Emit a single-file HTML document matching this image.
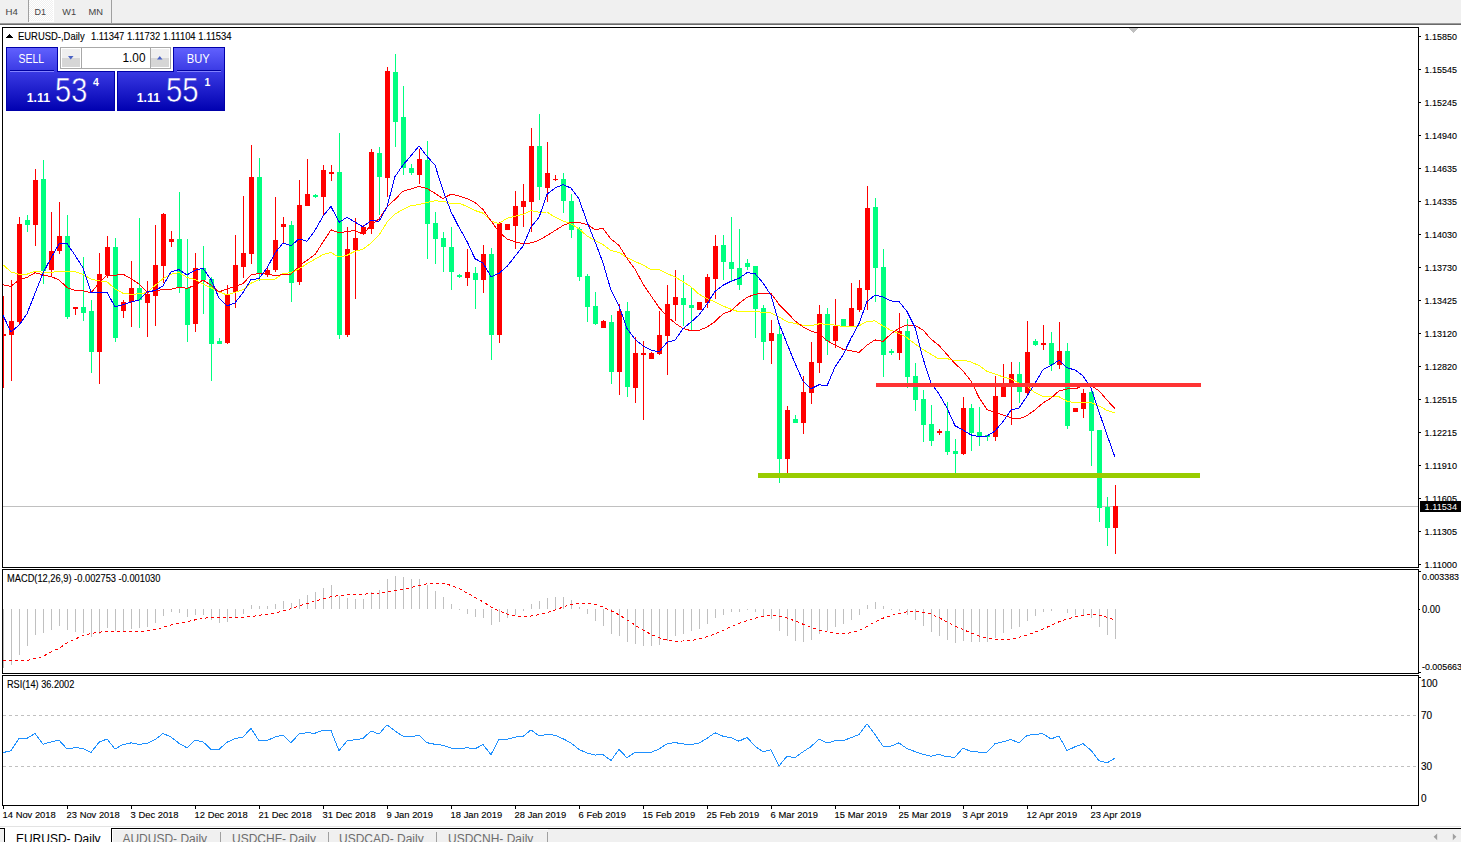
<!DOCTYPE html>
<html><head><meta charset="utf-8"><style>html,body{margin:0;padding:0;background:#fff;width:1461px;height:842px;overflow:hidden}svg{display:block}text{font-family:"Liberation Sans",sans-serif}</style></head>
<body><svg width="1461" height="842" viewBox="0 0 1461 842" shape-rendering="crispEdges" font-family="Liberation Sans, sans-serif"><rect x="0" y="0" width="1461" height="23" fill="#f0f0f0"/>
<defs><pattern id="dots" width="2" height="2" patternUnits="userSpaceOnUse"><rect width="2" height="2" fill="#f0f0f0"/><rect width="1" height="1" fill="#fff"/><rect x="1" y="1" width="1" height="1" fill="#fff"/></pattern></defs>
<rect x="29" y="0" width="24" height="21" fill="url(#dots)"/>
<rect x="53" y="0" width="1" height="22" fill="#fff"/>
<rect x="29" y="21" width="25" height="1" fill="#fff"/>
<rect x="28" y="0" width="1" height="22" fill="#a0a0a0"/>
<rect x="111" y="0" width="1" height="23" fill="#a0a0a0"/>
<text x="5.5" y="15" font-size="9.8" fill="#444" textLength="12.3" lengthAdjust="spacingAndGlyphs">H4</text>
<text x="34.5" y="15" font-size="9.8" fill="#444" textLength="11.5" lengthAdjust="spacingAndGlyphs">D1</text>
<text x="62.3" y="15" font-size="9.8" fill="#444" textLength="13.7" lengthAdjust="spacingAndGlyphs">W1</text>
<text x="88.5" y="15" font-size="9.8" fill="#444" textLength="14.5" lengthAdjust="spacingAndGlyphs">MN</text>
<rect x="0" y="23" width="1461" height="1" fill="#9a9a9a"/>
<rect x="0" y="24" width="1461" height="1" fill="#6a6a6a"/>
<rect x="2" y="27" width="1417" height="1" fill="#000"/>
<rect x="2" y="567" width="1417" height="1" fill="#000"/>
<rect x="2" y="27" width="1" height="541" fill="#000"/>
<rect x="1418" y="27" width="1" height="541" fill="#000"/>
<rect x="2" y="569" width="1417" height="1" fill="#000"/>
<rect x="2" y="673" width="1417" height="1" fill="#000"/>
<rect x="2" y="569" width="1" height="105" fill="#000"/>
<rect x="1418" y="569" width="1" height="105" fill="#000"/>
<rect x="2" y="675" width="1417" height="1" fill="#000"/>
<rect x="2" y="805" width="1417" height="1" fill="#000"/>
<rect x="2" y="675" width="1" height="131" fill="#000"/>
<rect x="1418" y="675" width="1" height="131" fill="#000"/>
<polygon points="1129,28 1138,28 1133.5,33" fill="#c0c0c0"/>
<rect x="1419" y="36" width="2" height="1" fill="#000"/>
<text x="1424.6" y="40" font-size="9.6" fill="#000" textLength="32.4" lengthAdjust="spacingAndGlyphs" stroke="#000" stroke-width="0.12">1.15850</text>
<rect x="1419" y="69" width="2" height="1" fill="#000"/>
<text x="1424.6" y="73" font-size="9.6" fill="#000" textLength="32.4" lengthAdjust="spacingAndGlyphs" stroke="#000" stroke-width="0.12">1.15545</text>
<rect x="1419" y="102" width="2" height="1" fill="#000"/>
<text x="1424.6" y="106" font-size="9.6" fill="#000" textLength="32.4" lengthAdjust="spacingAndGlyphs" stroke="#000" stroke-width="0.12">1.15245</text>
<rect x="1419" y="135" width="2" height="1" fill="#000"/>
<text x="1424.6" y="139" font-size="9.6" fill="#000" textLength="32.4" lengthAdjust="spacingAndGlyphs" stroke="#000" stroke-width="0.12">1.14940</text>
<rect x="1419" y="168" width="2" height="1" fill="#000"/>
<text x="1424.6" y="172" font-size="9.6" fill="#000" textLength="32.4" lengthAdjust="spacingAndGlyphs" stroke="#000" stroke-width="0.12">1.14635</text>
<rect x="1419" y="201" width="2" height="1" fill="#000"/>
<text x="1424.6" y="205" font-size="9.6" fill="#000" textLength="32.4" lengthAdjust="spacingAndGlyphs" stroke="#000" stroke-width="0.12">1.14335</text>
<rect x="1419" y="234" width="2" height="1" fill="#000"/>
<text x="1424.6" y="238" font-size="9.6" fill="#000" textLength="32.4" lengthAdjust="spacingAndGlyphs" stroke="#000" stroke-width="0.12">1.14030</text>
<rect x="1419" y="267" width="2" height="1" fill="#000"/>
<text x="1424.6" y="271" font-size="9.6" fill="#000" textLength="32.4" lengthAdjust="spacingAndGlyphs" stroke="#000" stroke-width="0.12">1.13730</text>
<rect x="1419" y="300" width="2" height="1" fill="#000"/>
<text x="1424.6" y="304" font-size="9.6" fill="#000" textLength="32.4" lengthAdjust="spacingAndGlyphs" stroke="#000" stroke-width="0.12">1.13425</text>
<rect x="1419" y="333" width="2" height="1" fill="#000"/>
<text x="1424.6" y="337" font-size="9.6" fill="#000" textLength="32.4" lengthAdjust="spacingAndGlyphs" stroke="#000" stroke-width="0.12">1.13120</text>
<rect x="1419" y="366" width="2" height="1" fill="#000"/>
<text x="1424.6" y="370" font-size="9.6" fill="#000" textLength="32.4" lengthAdjust="spacingAndGlyphs" stroke="#000" stroke-width="0.12">1.12820</text>
<rect x="1419" y="399" width="2" height="1" fill="#000"/>
<text x="1424.6" y="403" font-size="9.6" fill="#000" textLength="32.4" lengthAdjust="spacingAndGlyphs" stroke="#000" stroke-width="0.12">1.12515</text>
<rect x="1419" y="432" width="2" height="1" fill="#000"/>
<text x="1424.6" y="436" font-size="9.6" fill="#000" textLength="32.4" lengthAdjust="spacingAndGlyphs" stroke="#000" stroke-width="0.12">1.12215</text>
<rect x="1419" y="465" width="2" height="1" fill="#000"/>
<text x="1424.6" y="469" font-size="9.6" fill="#000" textLength="32.4" lengthAdjust="spacingAndGlyphs" stroke="#000" stroke-width="0.12">1.11910</text>
<rect x="1419" y="498" width="2" height="1" fill="#000"/>
<text x="1424.6" y="502" font-size="9.6" fill="#000" textLength="32.4" lengthAdjust="spacingAndGlyphs" stroke="#000" stroke-width="0.12">1.11605</text>
<rect x="1419" y="531" width="2" height="1" fill="#000"/>
<text x="1424.6" y="535" font-size="9.6" fill="#000" textLength="32.4" lengthAdjust="spacingAndGlyphs" stroke="#000" stroke-width="0.12">1.11305</text>
<rect x="1419" y="564" width="2" height="1" fill="#000"/>
<text x="1424.6" y="568" font-size="9.6" fill="#000" textLength="32.4" lengthAdjust="spacingAndGlyphs" stroke="#000" stroke-width="0.12">1.11000</text>
<clipPath id="cm"><rect x="3" y="28" width="1415" height="539"/></clipPath>
<clipPath id="cmacd"><rect x="3" y="571" width="1415" height="102"/></clipPath>
<clipPath id="crsi"><rect x="3" y="677" width="1415" height="128"/></clipPath>
<g clip-path="url(#cm)">
<rect x="3" y="506" width="1415" height="1" fill="#c0c0c0"/>
<rect x="3" y="296" width="1" height="92" fill="#ff0000"/>
<rect x="1" y="334" width="5" height="2" fill="#ff0000"/>
<rect x="11" y="280" width="1" height="101" fill="#ff0000"/>
<rect x="9" y="321" width="5" height="14" fill="#ff0000"/>
<rect x="19" y="217" width="1" height="108" fill="#ff0000"/>
<rect x="17" y="224" width="5" height="98" fill="#ff0000"/>
<rect x="27" y="215" width="1" height="17" fill="#00ff7f"/>
<rect x="25" y="220" width="5" height="5" fill="#00ff7f"/>
<rect x="35" y="169" width="1" height="77" fill="#ff0000"/>
<rect x="33" y="180" width="5" height="45" fill="#ff0000"/>
<rect x="43" y="160" width="1" height="124" fill="#00ff7f"/>
<rect x="41" y="179" width="5" height="92" fill="#00ff7f"/>
<rect x="51" y="212" width="1" height="64" fill="#ff0000"/>
<rect x="49" y="251" width="5" height="19" fill="#ff0000"/>
<rect x="59" y="202" width="1" height="52" fill="#ff0000"/>
<rect x="57" y="236" width="5" height="15" fill="#ff0000"/>
<rect x="67" y="215" width="1" height="104" fill="#00ff7f"/>
<rect x="65" y="236" width="5" height="81" fill="#00ff7f"/>
<rect x="75" y="307" width="1" height="8" fill="#ff0000"/>
<rect x="73" y="307" width="5" height="2" fill="#ff0000"/>
<rect x="83" y="257" width="1" height="64" fill="#00ff7f"/>
<rect x="81" y="307" width="5" height="6" fill="#00ff7f"/>
<rect x="91" y="300" width="1" height="73" fill="#00ff7f"/>
<rect x="89" y="311" width="5" height="41" fill="#00ff7f"/>
<rect x="99" y="253" width="1" height="131" fill="#ff0000"/>
<rect x="97" y="274" width="5" height="78" fill="#ff0000"/>
<rect x="107" y="236" width="1" height="42" fill="#ff0000"/>
<rect x="105" y="247" width="5" height="28" fill="#ff0000"/>
<rect x="115" y="238" width="1" height="104" fill="#00ff7f"/>
<rect x="113" y="247" width="5" height="91" fill="#00ff7f"/>
<rect x="123" y="300" width="1" height="18" fill="#ff0000"/>
<rect x="121" y="302" width="5" height="9" fill="#ff0000"/>
<rect x="131" y="261" width="1" height="66" fill="#ff0000"/>
<rect x="129" y="288" width="5" height="14" fill="#ff0000"/>
<rect x="139" y="218" width="1" height="110" fill="#00ff7f"/>
<rect x="137" y="288" width="5" height="12" fill="#00ff7f"/>
<rect x="147" y="281" width="1" height="56" fill="#ff0000"/>
<rect x="145" y="294" width="5" height="9" fill="#ff0000"/>
<rect x="155" y="225" width="1" height="101" fill="#ff0000"/>
<rect x="153" y="265" width="5" height="31" fill="#ff0000"/>
<rect x="163" y="213" width="1" height="70" fill="#ff0000"/>
<rect x="161" y="214" width="5" height="52" fill="#ff0000"/>
<rect x="171" y="231" width="1" height="16" fill="#ff0000"/>
<rect x="169" y="239" width="5" height="3" fill="#ff0000"/>
<rect x="179" y="192" width="1" height="101" fill="#00ff7f"/>
<rect x="177" y="239" width="5" height="48" fill="#00ff7f"/>
<rect x="187" y="239" width="1" height="103" fill="#00ff7f"/>
<rect x="185" y="288" width="5" height="37" fill="#00ff7f"/>
<rect x="195" y="253" width="1" height="79" fill="#ff0000"/>
<rect x="193" y="268" width="5" height="56" fill="#ff0000"/>
<rect x="203" y="246" width="1" height="68" fill="#00ff7f"/>
<rect x="201" y="268" width="5" height="12" fill="#00ff7f"/>
<rect x="211" y="277" width="1" height="104" fill="#00ff7f"/>
<rect x="209" y="279" width="5" height="65" fill="#00ff7f"/>
<rect x="219" y="338" width="1" height="6" fill="#00ff7f"/>
<rect x="217" y="341" width="5" height="3" fill="#00ff7f"/>
<rect x="227" y="285" width="1" height="59" fill="#ff0000"/>
<rect x="225" y="294" width="5" height="49" fill="#ff0000"/>
<rect x="235" y="235" width="1" height="73" fill="#ff0000"/>
<rect x="233" y="265" width="5" height="27" fill="#ff0000"/>
<rect x="243" y="196" width="1" height="82" fill="#ff0000"/>
<rect x="241" y="253" width="5" height="14" fill="#ff0000"/>
<rect x="251" y="145" width="1" height="119" fill="#ff0000"/>
<rect x="249" y="177" width="5" height="77" fill="#ff0000"/>
<rect x="259" y="158" width="1" height="123" fill="#00ff7f"/>
<rect x="257" y="177" width="5" height="96" fill="#00ff7f"/>
<rect x="267" y="267" width="1" height="10" fill="#ff0000"/>
<rect x="265" y="270" width="5" height="5" fill="#ff0000"/>
<rect x="275" y="197" width="1" height="75" fill="#ff0000"/>
<rect x="273" y="240" width="5" height="30" fill="#ff0000"/>
<rect x="283" y="217" width="1" height="27" fill="#ff0000"/>
<rect x="281" y="224" width="5" height="3" fill="#ff0000"/>
<rect x="291" y="221" width="1" height="81" fill="#00ff7f"/>
<rect x="289" y="225" width="5" height="58" fill="#00ff7f"/>
<rect x="299" y="180" width="1" height="105" fill="#ff0000"/>
<rect x="297" y="205" width="5" height="77" fill="#ff0000"/>
<rect x="307" y="159" width="1" height="47" fill="#ff0000"/>
<rect x="305" y="194" width="5" height="12" fill="#ff0000"/>
<rect x="315" y="194" width="1" height="4" fill="#00ff7f"/>
<rect x="313" y="195" width="5" height="2" fill="#00ff7f"/>
<rect x="323" y="165" width="1" height="51" fill="#ff0000"/>
<rect x="321" y="170" width="5" height="27" fill="#ff0000"/>
<rect x="331" y="165" width="1" height="16" fill="#ff0000"/>
<rect x="329" y="172" width="5" height="2" fill="#ff0000"/>
<rect x="339" y="133" width="1" height="206" fill="#00ff7f"/>
<rect x="337" y="172" width="5" height="163" fill="#00ff7f"/>
<rect x="347" y="227" width="1" height="110" fill="#ff0000"/>
<rect x="345" y="249" width="5" height="86" fill="#ff0000"/>
<rect x="355" y="218" width="1" height="81" fill="#ff0000"/>
<rect x="353" y="238" width="5" height="12" fill="#ff0000"/>
<rect x="363" y="225" width="1" height="10" fill="#ff0000"/>
<rect x="361" y="227" width="5" height="7" fill="#ff0000"/>
<rect x="371" y="149" width="1" height="85" fill="#ff0000"/>
<rect x="369" y="152" width="5" height="77" fill="#ff0000"/>
<rect x="379" y="147" width="1" height="68" fill="#00ff7f"/>
<rect x="377" y="153" width="5" height="24" fill="#00ff7f"/>
<rect x="387" y="67" width="1" height="130" fill="#ff0000"/>
<rect x="385" y="71" width="5" height="107" fill="#ff0000"/>
<rect x="395" y="54" width="1" height="93" fill="#00ff7f"/>
<rect x="393" y="72" width="5" height="50" fill="#00ff7f"/>
<rect x="403" y="86" width="1" height="89" fill="#00ff7f"/>
<rect x="401" y="117" width="5" height="51" fill="#00ff7f"/>
<rect x="411" y="164" width="1" height="11" fill="#00ff7f"/>
<rect x="409" y="168" width="5" height="5" fill="#00ff7f"/>
<rect x="419" y="149" width="1" height="35" fill="#ff0000"/>
<rect x="417" y="159" width="5" height="16" fill="#ff0000"/>
<rect x="427" y="141" width="1" height="118" fill="#00ff7f"/>
<rect x="425" y="160" width="5" height="64" fill="#00ff7f"/>
<rect x="435" y="212" width="1" height="52" fill="#00ff7f"/>
<rect x="433" y="223" width="5" height="16" fill="#00ff7f"/>
<rect x="443" y="232" width="1" height="40" fill="#00ff7f"/>
<rect x="441" y="238" width="5" height="9" fill="#00ff7f"/>
<rect x="451" y="227" width="1" height="63" fill="#00ff7f"/>
<rect x="449" y="247" width="5" height="25" fill="#00ff7f"/>
<rect x="459" y="274" width="1" height="4" fill="#00ff7f"/>
<rect x="457" y="275" width="5" height="2" fill="#00ff7f"/>
<rect x="467" y="249" width="1" height="37" fill="#ff0000"/>
<rect x="465" y="272" width="5" height="6" fill="#ff0000"/>
<rect x="475" y="267" width="1" height="42" fill="#00ff7f"/>
<rect x="473" y="273" width="5" height="7" fill="#00ff7f"/>
<rect x="483" y="245" width="1" height="48" fill="#ff0000"/>
<rect x="481" y="254" width="5" height="26" fill="#ff0000"/>
<rect x="491" y="248" width="1" height="112" fill="#00ff7f"/>
<rect x="489" y="254" width="5" height="81" fill="#00ff7f"/>
<rect x="499" y="222" width="1" height="121" fill="#ff0000"/>
<rect x="497" y="223" width="5" height="112" fill="#ff0000"/>
<rect x="507" y="224" width="1" height="6" fill="#ff0000"/>
<rect x="505" y="224" width="5" height="6" fill="#ff0000"/>
<rect x="515" y="191" width="1" height="58" fill="#ff0000"/>
<rect x="513" y="206" width="5" height="20" fill="#ff0000"/>
<rect x="523" y="184" width="1" height="43" fill="#ff0000"/>
<rect x="521" y="201" width="5" height="6" fill="#ff0000"/>
<rect x="531" y="128" width="1" height="104" fill="#ff0000"/>
<rect x="529" y="146" width="5" height="56" fill="#ff0000"/>
<rect x="539" y="114" width="1" height="86" fill="#00ff7f"/>
<rect x="537" y="146" width="5" height="41" fill="#00ff7f"/>
<rect x="547" y="142" width="1" height="60" fill="#ff0000"/>
<rect x="545" y="173" width="5" height="15" fill="#ff0000"/>
<rect x="555" y="175" width="1" height="6" fill="#ff0000"/>
<rect x="553" y="179" width="5" height="1" fill="#ff0000"/>
<rect x="563" y="173" width="1" height="40" fill="#00ff7f"/>
<rect x="561" y="179" width="5" height="22" fill="#00ff7f"/>
<rect x="571" y="194" width="1" height="44" fill="#00ff7f"/>
<rect x="569" y="201" width="5" height="29" fill="#00ff7f"/>
<rect x="579" y="227" width="1" height="54" fill="#00ff7f"/>
<rect x="577" y="229" width="5" height="48" fill="#00ff7f"/>
<rect x="587" y="274" width="1" height="48" fill="#00ff7f"/>
<rect x="585" y="276" width="5" height="31" fill="#00ff7f"/>
<rect x="595" y="292" width="1" height="33" fill="#00ff7f"/>
<rect x="593" y="306" width="5" height="18" fill="#00ff7f"/>
<rect x="603" y="320" width="1" height="8" fill="#ff0000"/>
<rect x="601" y="321" width="5" height="7" fill="#ff0000"/>
<rect x="611" y="315" width="1" height="69" fill="#00ff7f"/>
<rect x="609" y="322" width="5" height="50" fill="#00ff7f"/>
<rect x="619" y="304" width="1" height="91" fill="#ff0000"/>
<rect x="617" y="311" width="5" height="61" fill="#ff0000"/>
<rect x="627" y="302" width="1" height="95" fill="#00ff7f"/>
<rect x="625" y="311" width="5" height="76" fill="#00ff7f"/>
<rect x="635" y="337" width="1" height="66" fill="#ff0000"/>
<rect x="633" y="353" width="5" height="35" fill="#ff0000"/>
<rect x="643" y="341" width="1" height="79" fill="#ff0000"/>
<rect x="641" y="353" width="5" height="2" fill="#ff0000"/>
<rect x="651" y="352" width="1" height="7" fill="#ff0000"/>
<rect x="649" y="353" width="5" height="6" fill="#ff0000"/>
<rect x="659" y="311" width="1" height="44" fill="#ff0000"/>
<rect x="657" y="335" width="5" height="19" fill="#ff0000"/>
<rect x="667" y="285" width="1" height="90" fill="#ff0000"/>
<rect x="665" y="304" width="5" height="32" fill="#ff0000"/>
<rect x="675" y="270" width="1" height="51" fill="#ff0000"/>
<rect x="673" y="297" width="5" height="8" fill="#ff0000"/>
<rect x="683" y="275" width="1" height="51" fill="#00ff7f"/>
<rect x="681" y="298" width="5" height="7" fill="#00ff7f"/>
<rect x="691" y="287" width="1" height="43" fill="#00ff7f"/>
<rect x="689" y="305" width="5" height="3" fill="#00ff7f"/>
<rect x="699" y="302" width="1" height="8" fill="#ff0000"/>
<rect x="697" y="302" width="5" height="8" fill="#ff0000"/>
<rect x="707" y="274" width="1" height="34" fill="#ff0000"/>
<rect x="705" y="277" width="5" height="26" fill="#ff0000"/>
<rect x="715" y="235" width="1" height="64" fill="#ff0000"/>
<rect x="713" y="246" width="5" height="33" fill="#ff0000"/>
<rect x="723" y="235" width="1" height="45" fill="#00ff7f"/>
<rect x="721" y="245" width="5" height="17" fill="#00ff7f"/>
<rect x="731" y="217" width="1" height="65" fill="#00ff7f"/>
<rect x="729" y="262" width="5" height="7" fill="#00ff7f"/>
<rect x="739" y="229" width="1" height="61" fill="#00ff7f"/>
<rect x="737" y="268" width="5" height="17" fill="#00ff7f"/>
<rect x="747" y="259" width="1" height="11" fill="#00ff7f"/>
<rect x="745" y="263" width="5" height="4" fill="#00ff7f"/>
<rect x="755" y="266" width="1" height="72" fill="#00ff7f"/>
<rect x="753" y="266" width="5" height="43" fill="#00ff7f"/>
<rect x="763" y="305" width="1" height="55" fill="#00ff7f"/>
<rect x="761" y="308" width="5" height="34" fill="#00ff7f"/>
<rect x="771" y="320" width="1" height="44" fill="#ff0000"/>
<rect x="769" y="333" width="5" height="8" fill="#ff0000"/>
<rect x="779" y="325" width="1" height="158" fill="#00ff7f"/>
<rect x="777" y="334" width="5" height="125" fill="#00ff7f"/>
<rect x="787" y="406" width="1" height="67" fill="#ff0000"/>
<rect x="785" y="410" width="5" height="49" fill="#ff0000"/>
<rect x="795" y="415" width="1" height="8" fill="#00ff7f"/>
<rect x="793" y="419" width="5" height="4" fill="#00ff7f"/>
<rect x="803" y="376" width="1" height="58" fill="#ff0000"/>
<rect x="801" y="392" width="5" height="31" fill="#ff0000"/>
<rect x="811" y="342" width="1" height="62" fill="#ff0000"/>
<rect x="809" y="362" width="5" height="31" fill="#ff0000"/>
<rect x="819" y="305" width="1" height="68" fill="#ff0000"/>
<rect x="817" y="314" width="5" height="49" fill="#ff0000"/>
<rect x="827" y="308" width="1" height="47" fill="#00ff7f"/>
<rect x="825" y="314" width="5" height="27" fill="#00ff7f"/>
<rect x="835" y="299" width="1" height="49" fill="#ff0000"/>
<rect x="833" y="326" width="5" height="15" fill="#ff0000"/>
<rect x="843" y="319" width="1" height="8" fill="#00ff7f"/>
<rect x="841" y="319" width="5" height="7" fill="#00ff7f"/>
<rect x="851" y="283" width="1" height="43" fill="#ff0000"/>
<rect x="849" y="308" width="5" height="18" fill="#ff0000"/>
<rect x="859" y="280" width="1" height="32" fill="#ff0000"/>
<rect x="857" y="288" width="5" height="22" fill="#ff0000"/>
<rect x="867" y="186" width="1" height="124" fill="#ff0000"/>
<rect x="865" y="208" width="5" height="82" fill="#ff0000"/>
<rect x="875" y="198" width="1" height="104" fill="#00ff7f"/>
<rect x="873" y="207" width="5" height="61" fill="#00ff7f"/>
<rect x="883" y="249" width="1" height="128" fill="#00ff7f"/>
<rect x="881" y="267" width="5" height="88" fill="#00ff7f"/>
<rect x="891" y="349" width="1" height="6" fill="#00ff7f"/>
<rect x="889" y="351" width="5" height="2" fill="#00ff7f"/>
<rect x="899" y="313" width="1" height="47" fill="#ff0000"/>
<rect x="897" y="331" width="5" height="22" fill="#ff0000"/>
<rect x="907" y="319" width="1" height="69" fill="#00ff7f"/>
<rect x="905" y="331" width="5" height="46" fill="#00ff7f"/>
<rect x="915" y="363" width="1" height="48" fill="#00ff7f"/>
<rect x="913" y="376" width="5" height="24" fill="#00ff7f"/>
<rect x="923" y="390" width="1" height="52" fill="#00ff7f"/>
<rect x="921" y="399" width="5" height="26" fill="#00ff7f"/>
<rect x="931" y="405" width="1" height="41" fill="#00ff7f"/>
<rect x="929" y="424" width="5" height="17" fill="#00ff7f"/>
<rect x="939" y="429" width="1" height="6" fill="#ff0000"/>
<rect x="937" y="431" width="5" height="2" fill="#ff0000"/>
<rect x="947" y="402" width="1" height="53" fill="#00ff7f"/>
<rect x="945" y="431" width="5" height="21" fill="#00ff7f"/>
<rect x="955" y="439" width="1" height="34" fill="#00ff7f"/>
<rect x="953" y="451" width="5" height="3" fill="#00ff7f"/>
<rect x="963" y="397" width="1" height="58" fill="#ff0000"/>
<rect x="961" y="408" width="5" height="46" fill="#ff0000"/>
<rect x="971" y="404" width="1" height="47" fill="#00ff7f"/>
<rect x="969" y="408" width="5" height="25" fill="#00ff7f"/>
<rect x="979" y="407" width="1" height="39" fill="#00ff7f"/>
<rect x="977" y="432" width="5" height="5" fill="#00ff7f"/>
<rect x="987" y="435" width="1" height="6" fill="#00ff7f"/>
<rect x="985" y="435" width="5" height="2" fill="#00ff7f"/>
<rect x="995" y="376" width="1" height="65" fill="#ff0000"/>
<rect x="993" y="396" width="5" height="41" fill="#ff0000"/>
<rect x="1003" y="364" width="1" height="33" fill="#ff0000"/>
<rect x="1001" y="386" width="5" height="11" fill="#ff0000"/>
<rect x="1011" y="362" width="1" height="63" fill="#ff0000"/>
<rect x="1009" y="374" width="5" height="12" fill="#ff0000"/>
<rect x="1019" y="362" width="1" height="41" fill="#00ff7f"/>
<rect x="1017" y="374" width="5" height="18" fill="#00ff7f"/>
<rect x="1027" y="321" width="1" height="73" fill="#ff0000"/>
<rect x="1025" y="352" width="5" height="41" fill="#ff0000"/>
<rect x="1035" y="339" width="1" height="7" fill="#00ff7f"/>
<rect x="1033" y="341" width="5" height="4" fill="#00ff7f"/>
<rect x="1043" y="325" width="1" height="25" fill="#ff0000"/>
<rect x="1041" y="343" width="5" height="2" fill="#ff0000"/>
<rect x="1051" y="332" width="1" height="39" fill="#00ff7f"/>
<rect x="1049" y="343" width="5" height="22" fill="#00ff7f"/>
<rect x="1059" y="322" width="1" height="47" fill="#ff0000"/>
<rect x="1057" y="351" width="5" height="14" fill="#ff0000"/>
<rect x="1067" y="343" width="1" height="86" fill="#00ff7f"/>
<rect x="1065" y="351" width="5" height="75" fill="#00ff7f"/>
<rect x="1075" y="408" width="1" height="4" fill="#ff0000"/>
<rect x="1073" y="408" width="5" height="4" fill="#ff0000"/>
<rect x="1083" y="389" width="1" height="29" fill="#ff0000"/>
<rect x="1081" y="393" width="5" height="16" fill="#ff0000"/>
<rect x="1091" y="389" width="1" height="77" fill="#00ff7f"/>
<rect x="1089" y="392" width="5" height="39" fill="#00ff7f"/>
<rect x="1099" y="430" width="1" height="92" fill="#00ff7f"/>
<rect x="1097" y="430" width="5" height="78" fill="#00ff7f"/>
<rect x="1107" y="497" width="1" height="49" fill="#00ff7f"/>
<rect x="1105" y="507" width="5" height="21" fill="#00ff7f"/>
<rect x="1115" y="485" width="1" height="69" fill="#ff0000"/>
<rect x="1113" y="506" width="5" height="22" fill="#ff0000"/>
<polyline points="3,264.8 11,271.9 19,274.2 27,274.2 35,271.1 43,272.3 51,272.6 59,271.2 67,272.0 75,271.8 83,274.2 91,279.2 99,280.9 107,281.8 115,288.8 123,293.3 131,294.2 139,293.9 147,292.6 155,285.5 163,278.7 171,274.2 179,272.6 187,277.4 195,279.4 203,284.2 211,287.7 219,292.1 227,294.9 235,292.4 243,289.8 251,283.3 259,279.6 267,279.4 275,279.0 283,273.6 291,272.7 299,268.8 307,263.7 315,259.1 323,254.6 331,252.6 339,257.1 347,255.3 355,251.2 363,249.2 371,243.1 379,235.2 387,222.2 395,214.0 403,209.4 411,205.6 419,204.7 427,202.4 435,200.9 443,201.2 451,203.5 459,203.2 467,206.4 475,210.5 483,213.2 491,221.1 499,223.5 507,218.2 515,216.2 523,214.4 531,210.6 539,212.2 547,212.0 555,217.2 563,221.0 571,223.9 579,228.9 587,235.9 595,240.7 603,244.6 611,250.5 619,252.4 627,257.6 635,261.5 643,265.0 651,269.7 659,269.7 667,273.5 675,277.0 683,281.7 691,286.8 699,294.2 707,298.5 715,302.0 723,306.0 731,309.2 739,311.8 747,311.3 755,311.4 763,312.3 771,312.9 779,317.0 787,321.7 795,323.4 803,325.3 811,325.7 819,323.9 827,324.1 835,325.2 843,326.6 851,326.7 859,325.8 867,321.3 875,320.9 883,326.0 891,330.4 899,333.3 907,337.7 915,344.0 923,349.6 931,354.3 939,359.0 947,358.6 955,360.7 963,360.0 971,362.0 979,365.5 987,371.4 995,374.0 1003,376.9 1011,379.1 1019,383.1 1027,386.2 1035,392.7 1043,396.3 1051,396.8 1059,396.7 1067,401.2 1075,402.7 1083,402.3 1091,402.6 1099,405.8 1107,410.4 1115,413.0" fill="none" stroke="#ffff00" stroke-width="1"/>
<polyline points="3,284.8 11,286.3 19,280.0 27,277.4 35,272.7 43,274.9 51,276.6 59,279.8 67,287.6 75,290.3 83,290.8 91,292.9 99,283.0 107,275.1 115,275.4 123,274.1 131,278.6 139,284.0 147,292.1 155,291.7 163,289.1 171,289.3 179,287.1 187,288.4 195,285.2 203,280.1 211,285.1 219,292.0 227,288.9 235,286.2 243,283.7 251,274.9 259,273.4 267,273.8 275,275.6 283,274.6 291,274.3 299,265.7 307,260.4 315,254.5 323,242.1 331,229.8 339,232.7 347,231.6 355,230.5 363,234.1 371,225.4 379,218.8 387,206.7 395,199.4 403,191.2 411,188.9 419,186.4 427,188.4 435,193.3 443,198.6 451,194.1 459,196.1 467,198.6 475,202.4 483,209.6 491,220.9 499,231.8 507,239.1 515,241.8 523,243.8 531,242.9 539,240.2 547,235.5 555,230.6 563,225.6 571,222.2 579,222.6 587,224.5 595,229.5 603,228.5 611,239.1 619,245.4 627,258.3 635,269.1 643,283.9 651,295.8 659,307.4 667,316.3 675,323.1 683,328.5 691,330.7 699,330.4 707,327.0 715,321.6 723,313.8 731,310.8 739,303.5 747,297.4 755,294.2 763,293.4 771,293.3 779,304.4 787,312.4 795,320.9 803,326.9 811,331.1 819,333.8 827,340.6 835,345.1 843,349.2 851,350.9 859,352.4 867,345.1 875,339.9 883,341.4 891,333.9 899,328.2 907,324.9 915,325.5 923,330.0 931,339.1 939,345.5 947,354.5 955,363.6 963,370.8 971,381.1 979,397.5 987,409.6 995,412.5 1003,414.9 1011,417.9 1019,419.0 1027,415.6 1035,409.9 1043,402.9 1051,398.1 1059,390.9 1067,388.9 1075,388.9 1083,386.1 1091,385.6 1099,390.7 1107,400.1 1115,408.7" fill="none" stroke="#ff0000" stroke-width="1"/>
<polyline points="3,315.5 11,331.7 19,325.3 27,313.7 35,293.4 43,273.1 51,258.0 59,244.0 67,243.4 75,255.3 83,267.9 91,292.4 99,292.9 107,292.3 115,306.9 123,304.7 131,302.0 139,300.1 147,291.9 155,290.6 163,285.9 171,271.7 179,269.6 187,274.9 195,270.3 203,268.3 211,279.6 219,298.1 227,306.0 235,302.9 243,292.6 251,279.6 259,278.6 267,268.0 275,253.1 283,243.1 291,245.7 299,238.9 307,241.3 315,230.4 323,216.1 331,206.4 339,222.3 347,217.4 355,222.1 363,226.9 371,220.4 379,221.4 387,207.0 395,176.6 403,165.0 411,155.7 419,146.0 427,156.3 435,165.1 443,190.3 451,211.7 459,227.3 467,241.4 475,258.7 483,263.0 491,276.7 499,273.3 507,266.4 515,256.3 523,246.1 531,227.0 539,217.4 547,194.3 555,188.0 563,184.7 571,188.1 579,199.0 587,222.0 595,241.6 603,262.7 611,290.3 619,306.0 627,328.4 635,339.3 643,345.9 651,350.0 659,352.0 667,342.3 675,340.3 683,328.6 691,322.1 699,314.9 707,304.0 715,291.3 723,285.3 731,281.3 739,278.4 747,272.6 755,273.6 763,282.9 771,295.3 779,323.4 787,343.6 795,363.3 803,381.1 811,388.7 819,384.7 827,385.9 835,366.9 843,354.9 851,338.4 859,323.6 867,301.6 875,295.0 883,297.0 891,300.9 899,301.6 907,311.4 915,327.4 923,358.4 931,383.1 939,394.0 947,408.1 955,425.7 963,430.1 971,434.9 979,436.6 987,436.0 995,431.0 1003,421.6 1011,410.1 1019,407.9 1027,396.3 1035,383.1 1043,369.7 1051,365.3 1059,360.3 1067,367.7 1075,370.0 1083,375.9 1091,388.1 1099,411.7 1107,435.0 1115,457.1" fill="none" stroke="#0000ff" stroke-width="1"/>
<rect x="876" y="383" width="325" height="4" fill="#ff3333"/>
<rect x="758" y="473" width="442" height="5" fill="#99cc00"/>
</g>
<polygon points="6,38 13,38 9.5,34" fill="#000"/>
<text x="18" y="40" font-size="10.5" fill="#000" textLength="66.6" lengthAdjust="spacingAndGlyphs" stroke="#000" stroke-width="0.12">EURUSD-,Daily</text>
<text x="91" y="40" font-size="10.5" fill="#000" textLength="140.6" lengthAdjust="spacingAndGlyphs" stroke="#000" stroke-width="0.12">1.11347 1.11732 1.11104 1.11534</text>
<rect x="1420" y="501" width="41" height="11" fill="#000"/>
<text x="1424.6" y="510" font-size="9.6" fill="#fff" textLength="32.4" lengthAdjust="spacingAndGlyphs">1.11534</text>
<g clip-path="url(#cmacd)">
<rect x="3" y="609" width="1" height="59" fill="#c0c0c0"/>
<rect x="11" y="609" width="1" height="56" fill="#c0c0c0"/>
<rect x="19" y="609" width="1" height="46" fill="#c0c0c0"/>
<rect x="27" y="609" width="1" height="37" fill="#c0c0c0"/>
<rect x="35" y="609" width="1" height="26" fill="#c0c0c0"/>
<rect x="43" y="609" width="1" height="24" fill="#c0c0c0"/>
<rect x="51" y="609" width="1" height="21" fill="#c0c0c0"/>
<rect x="59" y="609" width="1" height="17" fill="#c0c0c0"/>
<rect x="67" y="609" width="1" height="21" fill="#c0c0c0"/>
<rect x="75" y="609" width="1" height="23" fill="#c0c0c0"/>
<rect x="83" y="609" width="1" height="24" fill="#c0c0c0"/>
<rect x="91" y="609" width="1" height="28" fill="#c0c0c0"/>
<rect x="99" y="609" width="1" height="25" fill="#c0c0c0"/>
<rect x="107" y="609" width="1" height="19" fill="#c0c0c0"/>
<rect x="115" y="609" width="1" height="22" fill="#c0c0c0"/>
<rect x="123" y="609" width="1" height="22" fill="#c0c0c0"/>
<rect x="131" y="609" width="1" height="20" fill="#c0c0c0"/>
<rect x="139" y="609" width="1" height="19" fill="#c0c0c0"/>
<rect x="147" y="609" width="1" height="18" fill="#c0c0c0"/>
<rect x="155" y="609" width="1" height="14" fill="#c0c0c0"/>
<rect x="163" y="609" width="1" height="7" fill="#c0c0c0"/>
<rect x="171" y="609" width="1" height="3" fill="#c0c0c0"/>
<rect x="179" y="609" width="1" height="4" fill="#c0c0c0"/>
<rect x="187" y="609" width="1" height="8" fill="#c0c0c0"/>
<rect x="195" y="609" width="1" height="6" fill="#c0c0c0"/>
<rect x="203" y="609" width="1" height="6" fill="#c0c0c0"/>
<rect x="211" y="609" width="1" height="11" fill="#c0c0c0"/>
<rect x="219" y="609" width="1" height="14" fill="#c0c0c0"/>
<rect x="227" y="609" width="1" height="13" fill="#c0c0c0"/>
<rect x="235" y="609" width="1" height="9" fill="#c0c0c0"/>
<rect x="243" y="609" width="1" height="5" fill="#c0c0c0"/>
<rect x="251" y="605" width="1" height="4" fill="#c0c0c0"/>
<rect x="259" y="606" width="1" height="3" fill="#c0c0c0"/>
<rect x="267" y="606" width="1" height="3" fill="#c0c0c0"/>
<rect x="275" y="604" width="1" height="5" fill="#c0c0c0"/>
<rect x="283" y="601" width="1" height="8" fill="#c0c0c0"/>
<rect x="291" y="603" width="1" height="6" fill="#c0c0c0"/>
<rect x="299" y="599" width="1" height="10" fill="#c0c0c0"/>
<rect x="307" y="595" width="1" height="14" fill="#c0c0c0"/>
<rect x="315" y="592" width="1" height="17" fill="#c0c0c0"/>
<rect x="323" y="588" width="1" height="21" fill="#c0c0c0"/>
<rect x="331" y="585" width="1" height="24" fill="#c0c0c0"/>
<rect x="339" y="596" width="1" height="13" fill="#c0c0c0"/>
<rect x="347" y="598" width="1" height="11" fill="#c0c0c0"/>
<rect x="355" y="599" width="1" height="10" fill="#c0c0c0"/>
<rect x="363" y="599" width="1" height="10" fill="#c0c0c0"/>
<rect x="371" y="592" width="1" height="17" fill="#c0c0c0"/>
<rect x="379" y="590" width="1" height="19" fill="#c0c0c0"/>
<rect x="387" y="579" width="1" height="30" fill="#c0c0c0"/>
<rect x="395" y="576" width="1" height="33" fill="#c0c0c0"/>
<rect x="403" y="577" width="1" height="32" fill="#c0c0c0"/>
<rect x="411" y="579" width="1" height="30" fill="#c0c0c0"/>
<rect x="419" y="579" width="1" height="30" fill="#c0c0c0"/>
<rect x="427" y="585" width="1" height="24" fill="#c0c0c0"/>
<rect x="435" y="591" width="1" height="18" fill="#c0c0c0"/>
<rect x="443" y="597" width="1" height="12" fill="#c0c0c0"/>
<rect x="451" y="604" width="1" height="5" fill="#c0c0c0"/>
<rect x="459" y="609" width="1" height="1" fill="#c0c0c0"/>
<rect x="467" y="609" width="1" height="5" fill="#c0c0c0"/>
<rect x="475" y="609" width="1" height="8" fill="#c0c0c0"/>
<rect x="483" y="609" width="1" height="9" fill="#c0c0c0"/>
<rect x="491" y="609" width="1" height="16" fill="#c0c0c0"/>
<rect x="499" y="609" width="1" height="13" fill="#c0c0c0"/>
<rect x="507" y="609" width="1" height="9" fill="#c0c0c0"/>
<rect x="515" y="609" width="1" height="6" fill="#c0c0c0"/>
<rect x="523" y="609" width="1" height="2" fill="#c0c0c0"/>
<rect x="531" y="604" width="1" height="5" fill="#c0c0c0"/>
<rect x="539" y="601" width="1" height="8" fill="#c0c0c0"/>
<rect x="547" y="598" width="1" height="11" fill="#c0c0c0"/>
<rect x="555" y="597" width="1" height="12" fill="#c0c0c0"/>
<rect x="563" y="597" width="1" height="12" fill="#c0c0c0"/>
<rect x="571" y="600" width="1" height="9" fill="#c0c0c0"/>
<rect x="579" y="607" width="1" height="2" fill="#c0c0c0"/>
<rect x="587" y="609" width="1" height="5" fill="#c0c0c0"/>
<rect x="595" y="609" width="1" height="12" fill="#c0c0c0"/>
<rect x="603" y="609" width="1" height="17" fill="#c0c0c0"/>
<rect x="611" y="609" width="1" height="25" fill="#c0c0c0"/>
<rect x="619" y="609" width="1" height="27" fill="#c0c0c0"/>
<rect x="627" y="609" width="1" height="33" fill="#c0c0c0"/>
<rect x="635" y="609" width="1" height="35" fill="#c0c0c0"/>
<rect x="643" y="609" width="1" height="37" fill="#c0c0c0"/>
<rect x="651" y="609" width="1" height="37" fill="#c0c0c0"/>
<rect x="659" y="609" width="1" height="36" fill="#c0c0c0"/>
<rect x="667" y="609" width="1" height="32" fill="#c0c0c0"/>
<rect x="675" y="609" width="1" height="27" fill="#c0c0c0"/>
<rect x="683" y="609" width="1" height="25" fill="#c0c0c0"/>
<rect x="691" y="609" width="1" height="22" fill="#c0c0c0"/>
<rect x="699" y="609" width="1" height="20" fill="#c0c0c0"/>
<rect x="707" y="609" width="1" height="15" fill="#c0c0c0"/>
<rect x="715" y="609" width="1" height="9" fill="#c0c0c0"/>
<rect x="723" y="609" width="1" height="6" fill="#c0c0c0"/>
<rect x="731" y="609" width="1" height="3" fill="#c0c0c0"/>
<rect x="739" y="609" width="1" height="3" fill="#c0c0c0"/>
<rect x="747" y="609" width="1" height="1" fill="#c0c0c0"/>
<rect x="755" y="609" width="1" height="3" fill="#c0c0c0"/>
<rect x="763" y="609" width="1" height="7" fill="#c0c0c0"/>
<rect x="771" y="609" width="1" height="10" fill="#c0c0c0"/>
<rect x="779" y="609" width="1" height="22" fill="#c0c0c0"/>
<rect x="787" y="609" width="1" height="27" fill="#c0c0c0"/>
<rect x="795" y="609" width="1" height="32" fill="#c0c0c0"/>
<rect x="803" y="609" width="1" height="33" fill="#c0c0c0"/>
<rect x="811" y="609" width="1" height="31" fill="#c0c0c0"/>
<rect x="819" y="609" width="1" height="25" fill="#c0c0c0"/>
<rect x="827" y="609" width="1" height="22" fill="#c0c0c0"/>
<rect x="835" y="609" width="1" height="18" fill="#c0c0c0"/>
<rect x="843" y="609" width="1" height="15" fill="#c0c0c0"/>
<rect x="851" y="609" width="1" height="11" fill="#c0c0c0"/>
<rect x="859" y="609" width="1" height="6" fill="#c0c0c0"/>
<rect x="867" y="605" width="1" height="4" fill="#c0c0c0"/>
<rect x="875" y="602" width="1" height="7" fill="#c0c0c0"/>
<rect x="883" y="606" width="1" height="3" fill="#c0c0c0"/>
<rect x="891" y="609" width="1" height="1" fill="#c0c0c0"/>
<rect x="899" y="609" width="1" height="2" fill="#c0c0c0"/>
<rect x="907" y="609" width="1" height="6" fill="#c0c0c0"/>
<rect x="915" y="609" width="1" height="11" fill="#c0c0c0"/>
<rect x="923" y="609" width="1" height="17" fill="#c0c0c0"/>
<rect x="931" y="609" width="1" height="23" fill="#c0c0c0"/>
<rect x="939" y="609" width="1" height="27" fill="#c0c0c0"/>
<rect x="947" y="609" width="1" height="31" fill="#c0c0c0"/>
<rect x="955" y="609" width="1" height="34" fill="#c0c0c0"/>
<rect x="963" y="609" width="1" height="32" fill="#c0c0c0"/>
<rect x="971" y="609" width="1" height="33" fill="#c0c0c0"/>
<rect x="979" y="609" width="1" height="33" fill="#c0c0c0"/>
<rect x="987" y="609" width="1" height="33" fill="#c0c0c0"/>
<rect x="995" y="609" width="1" height="29" fill="#c0c0c0"/>
<rect x="1003" y="609" width="1" height="24" fill="#c0c0c0"/>
<rect x="1011" y="609" width="1" height="20" fill="#c0c0c0"/>
<rect x="1019" y="609" width="1" height="18" fill="#c0c0c0"/>
<rect x="1027" y="609" width="1" height="12" fill="#c0c0c0"/>
<rect x="1035" y="609" width="1" height="7" fill="#c0c0c0"/>
<rect x="1043" y="609" width="1" height="3" fill="#c0c0c0"/>
<rect x="1051" y="609" width="1" height="2" fill="#c0c0c0"/>
<rect x="1059" y="609" width="1" height="0" fill="#c0c0c0"/>
<rect x="1067" y="609" width="1" height="4" fill="#c0c0c0"/>
<rect x="1075" y="609" width="1" height="6" fill="#c0c0c0"/>
<rect x="1083" y="609" width="1" height="6" fill="#c0c0c0"/>
<rect x="1091" y="609" width="1" height="9" fill="#c0c0c0"/>
<rect x="1099" y="609" width="1" height="18" fill="#c0c0c0"/>
<rect x="1107" y="609" width="1" height="26" fill="#c0c0c0"/>
<rect x="1115" y="609" width="1" height="30" fill="#c0c0c0"/>
<polyline points="3,660.5 11,660.5 19,660.5 27,660.5 35,658.4 43,656.4 51,652.0 59,648.3 67,643.1 75,639.1 83,635.5 91,633.6 99,632.2 107,631.5 115,631.3 123,631.3 131,631.6 139,631.4 147,630.8 155,629.7 163,627.3 171,624.9 179,623.3 187,621.6 195,619.9 203,618.4 211,617.5 219,617.1 227,617.0 235,617.3 243,617.5 251,616.6 259,615.3 267,614.3 275,613.0 283,610.9 291,608.7 299,606.1 307,603.5 315,601.0 323,599.0 331,596.7 339,595.6 347,595.0 355,594.8 363,594.3 371,593.6 379,593.0 387,591.6 395,590.3 403,589.4 411,587.5 419,585.4 427,583.9 435,583.1 443,583.7 451,585.3 459,588.6 467,592.9 475,597.4 483,601.8 491,606.9 499,611.0 507,614.0 515,615.9 523,616.6 531,616.0 539,614.6 547,612.5 555,610.1 563,607.0 571,604.6 579,603.3 587,603.3 595,604.4 603,607.0 611,610.7 619,614.8 627,619.8 635,625.0 643,630.1 651,634.4 659,637.8 667,640.0 675,641.1 683,641.0 691,640.5 699,639.0 707,636.8 715,633.7 723,630.3 731,626.7 739,623.5 747,620.6 755,618.2 763,616.5 771,615.4 779,616.1 787,618.0 795,620.9 803,624.2 811,627.3 819,629.9 827,632.0 835,633.2 843,633.8 851,632.7 859,630.4 867,626.4 875,621.9 883,618.2 891,615.5 899,613.3 907,611.9 915,611.5 923,612.2 931,614.1 939,617.6 947,621.9 955,626.0 963,629.5 971,632.9 979,635.9 987,638.3 995,639.5 1003,639.6 1011,638.9 1019,637.4 1027,634.9 1035,632.2 1043,628.9 1051,625.5 1059,621.8 1067,619.1 1075,617.0 1083,615.5 1091,614.5 1099,615.2 1107,617.2 1115,620.3" fill="none" stroke="#ff0000" stroke-width="1" stroke-dasharray="3,3"/>
</g>
<text x="7" y="582" font-size="10" fill="#000" textLength="153.4" lengthAdjust="spacingAndGlyphs" stroke="#000" stroke-width="0.12">MACD(12,26,9) -0.002753 -0.001030</text>
<rect x="1419" y="571" width="2" height="1" fill="#000"/>
<text x="1422" y="580" font-size="9.6" fill="#000" textLength="37" lengthAdjust="spacingAndGlyphs" stroke="#000" stroke-width="0.12">0.003383</text>
<text x="1422" y="613" font-size="10" fill="#000" textLength="18.2" lengthAdjust="spacingAndGlyphs" stroke="#000" stroke-width="0.12">0.00</text>
<rect x="1419" y="609" width="1" height="1" fill="#000"/>
<rect x="1419" y="672" width="2" height="1" fill="#000"/>
<rect x="1419" y="677" width="2" height="1" fill="#000"/>
<text x="1422" y="670" font-size="9.6" fill="#000" textLength="40" lengthAdjust="spacingAndGlyphs" stroke="#000" stroke-width="0.12">-0.005663</text>
<g clip-path="url(#crsi)">
<line x1="3" y1="715.5" x2="1418" y2="715.5" stroke="#c0c0c0" stroke-dasharray="3,3"/>
<line x1="3" y1="766.5" x2="1418" y2="766.5" stroke="#c0c0c0" stroke-dasharray="3,3"/>
<polyline points="3,752.6 11,750.7 19,738.3 27,738.4 35,733.4 43,744.3 51,741.9 59,740.1 67,749.0 75,747.7 83,748.4 91,752.6 99,742.2 107,739.0 115,748.9 123,744.6 131,742.9 139,744.3 147,743.5 155,739.6 163,733.5 171,737.0 179,743.3 187,747.8 195,740.3 203,741.8 211,749.3 219,749.3 227,742.3 235,738.5 243,737.0 251,728.3 259,740.9 267,740.6 275,737.0 283,735.2 291,742.8 299,733.9 307,732.8 315,733.2 323,730.2 331,730.5 339,750.8 347,740.9 355,739.7 363,738.5 371,730.9 379,734.1 387,724.8 395,731.0 403,736.2 411,736.8 419,735.3 427,742.7 435,744.3 443,745.2 451,748.0 459,748.6 467,747.8 475,748.8 483,744.6 491,754.6 499,739.2 507,739.3 515,737.1 523,736.5 531,729.9 539,736.0 547,734.3 555,735.3 563,738.7 571,743.1 579,749.4 587,753.1 595,755.1 603,754.5 611,760.5 619,749.4 627,757.8 635,752.3 643,752.3 651,752.3 659,749.1 667,743.8 675,742.6 683,743.9 691,744.5 699,743.2 707,738.3 715,732.8 723,736.2 731,737.7 739,741.2 747,737.4 755,746.1 763,751.8 771,749.7 779,766.0 787,756.2 795,757.7 803,751.8 811,746.6 819,739.0 827,743.1 835,740.7 843,740.7 851,737.7 859,734.5 867,723.8 875,734.4 883,746.3 891,746.1 899,742.8 907,748.7 915,751.5 923,754.4 931,756.2 939,754.3 947,756.9 955,757.1 963,748.0 971,751.6 979,752.1 987,752.1 995,743.7 1003,741.8 1011,739.5 1019,743.0 1027,735.4 1035,734.2 1043,733.8 1051,738.9 1059,736.0 1067,750.6 1075,746.8 1083,743.7 1091,750.3 1099,760.7 1107,762.9 1115,758.1" fill="none" stroke="#1e90ff" stroke-width="1"/>
</g>
<text x="7" y="688" font-size="10" fill="#000" textLength="67.3" lengthAdjust="spacingAndGlyphs" stroke="#000" stroke-width="0.12">RSI(14) 36.2002</text>
<text x="1421" y="687" font-size="10" fill="#000" stroke="#000" stroke-width="0.12">100</text>
<text x="1421" y="719" font-size="10" fill="#000" stroke="#000" stroke-width="0.12">70</text>
<text x="1421" y="770" font-size="10" fill="#000" stroke="#000" stroke-width="0.12">30</text>
<text x="1421" y="802" font-size="10" fill="#000" stroke="#000" stroke-width="0.12">0</text>
<rect x="3" y="806" width="1" height="3" fill="#000"/>
<text x="2.6" y="818" font-size="9.4" fill="#000" stroke="#000" stroke-width="0.12">14 Nov 2018</text>
<rect x="67" y="806" width="1" height="3" fill="#000"/>
<text x="66.6" y="818" font-size="9.4" fill="#000" stroke="#000" stroke-width="0.12">23 Nov 2018</text>
<rect x="131" y="806" width="1" height="3" fill="#000"/>
<text x="130.6" y="818" font-size="9.4" fill="#000" stroke="#000" stroke-width="0.12">3 Dec 2018</text>
<rect x="195" y="806" width="1" height="3" fill="#000"/>
<text x="194.6" y="818" font-size="9.4" fill="#000" stroke="#000" stroke-width="0.12">12 Dec 2018</text>
<rect x="259" y="806" width="1" height="3" fill="#000"/>
<text x="258.6" y="818" font-size="9.4" fill="#000" stroke="#000" stroke-width="0.12">21 Dec 2018</text>
<rect x="323" y="806" width="1" height="3" fill="#000"/>
<text x="322.6" y="818" font-size="9.4" fill="#000" stroke="#000" stroke-width="0.12">31 Dec 2018</text>
<rect x="387" y="806" width="1" height="3" fill="#000"/>
<text x="386.6" y="818" font-size="9.4" fill="#000" stroke="#000" stroke-width="0.12">9 Jan 2019</text>
<rect x="451" y="806" width="1" height="3" fill="#000"/>
<text x="450.6" y="818" font-size="9.4" fill="#000" stroke="#000" stroke-width="0.12">18 Jan 2019</text>
<rect x="515" y="806" width="1" height="3" fill="#000"/>
<text x="514.6" y="818" font-size="9.4" fill="#000" stroke="#000" stroke-width="0.12">28 Jan 2019</text>
<rect x="579" y="806" width="1" height="3" fill="#000"/>
<text x="578.6" y="818" font-size="9.4" fill="#000" stroke="#000" stroke-width="0.12">6 Feb 2019</text>
<rect x="643" y="806" width="1" height="3" fill="#000"/>
<text x="642.6" y="818" font-size="9.4" fill="#000" stroke="#000" stroke-width="0.12">15 Feb 2019</text>
<rect x="707" y="806" width="1" height="3" fill="#000"/>
<text x="706.6" y="818" font-size="9.4" fill="#000" stroke="#000" stroke-width="0.12">25 Feb 2019</text>
<rect x="771" y="806" width="1" height="3" fill="#000"/>
<text x="770.6" y="818" font-size="9.4" fill="#000" stroke="#000" stroke-width="0.12">6 Mar 2019</text>
<rect x="835" y="806" width="1" height="3" fill="#000"/>
<text x="834.6" y="818" font-size="9.4" fill="#000" stroke="#000" stroke-width="0.12">15 Mar 2019</text>
<rect x="899" y="806" width="1" height="3" fill="#000"/>
<text x="898.6" y="818" font-size="9.4" fill="#000" stroke="#000" stroke-width="0.12">25 Mar 2019</text>
<rect x="963" y="806" width="1" height="3" fill="#000"/>
<text x="962.6" y="818" font-size="9.4" fill="#000" stroke="#000" stroke-width="0.12">3 Apr 2019</text>
<rect x="1027" y="806" width="1" height="3" fill="#000"/>
<text x="1026.6" y="818" font-size="9.4" fill="#000" stroke="#000" stroke-width="0.12">12 Apr 2019</text>
<rect x="1091" y="806" width="1" height="3" fill="#000"/>
<text x="1090.6" y="818" font-size="9.4" fill="#000" stroke="#000" stroke-width="0.12">23 Apr 2019</text>
<rect x="0" y="826" width="1461" height="1" fill="#e3e3e3"/>
<rect x="0" y="828" width="1461" height="1" fill="#000"/>
<rect x="0" y="829" width="1461" height="13" fill="#f0f0f0"/>
<rect x="5" y="827" width="106" height="15" fill="#fff"/>
<rect x="4" y="828" width="1" height="14" fill="#000"/>
<rect x="111" y="828" width="1" height="14" fill="#000"/>
<rect x="112" y="829" width="436" height="1" fill="#fff"/>
<rect x="112" y="829" width="1" height="13" fill="#fff"/>
<text x="15.9" y="843" font-size="12" fill="#000">EURUSD- Daily</text>
<text x="122.4" y="843" font-size="12" fill="#6d6d6d">AUDUSD- Daily</text>
<rect x="220" y="832" width="1" height="10" fill="#a0a0a0"/>
<text x="232" y="843" font-size="12" fill="#6d6d6d">USDCHF- Daily</text>
<rect x="328" y="832" width="1" height="10" fill="#a0a0a0"/>
<text x="339" y="843" font-size="12" fill="#6d6d6d">USDCAD- Daily</text>
<rect x="436" y="832" width="1" height="10" fill="#a0a0a0"/>
<text x="448" y="843" font-size="12" fill="#6d6d6d">USDCNH- Daily</text>
<rect x="547" y="832" width="1" height="10" fill="#a0a0a0"/>
<polygon points="1437.2,833.5 1437.2,840.2 1433.6,836.85" fill="#a0a0a0" shape-rendering="auto"/>
<polygon points="1452.8,833.5 1452.8,840.2 1456.4,836.85" fill="#a0a0a0" shape-rendering="auto"/>
<defs><linearGradient id="bg" x1="0" y1="47" x2="0" y2="111" gradientUnits="userSpaceOnUse">
<stop offset="0" stop-color="#6262ff"/><stop offset="0.375" stop-color="#3a3ae4"/><stop offset="1" stop-color="#0000b0"/></linearGradient></defs>
<path d="M6,47 H58 V71 H115 V111 H6 Z" fill="#0000a8"/>
<path d="M7,48 H57 V72 H114 V110 H7 Z" fill="url(#bg)"/>
<path d="M173,47 H225 V111 H117 V71 H173 Z" fill="#0000a8"/>
<path d="M174,48 H224 V110 H118 V72 H174 Z" fill="url(#bg)"/>
<rect x="10" y="70" width="44" height="1" fill="#0000a0"/>
<rect x="10" y="71" width="44" height="1" fill="#8282ff"/>
<rect x="177" y="70" width="44" height="1" fill="#0000a0"/>
<rect x="177" y="71" width="44" height="1" fill="#8282ff"/>
<rect x="60" y="47" width="111" height="22" fill="#a8a8a8"/>
<rect x="61" y="48" width="109" height="20" fill="#fff"/>
<rect x="62" y="49" width="18" height="9" fill="#efefef"/>
<rect x="62" y="58" width="18" height="9" fill="#d6d6d6"/>
<rect x="81" y="48" width="1" height="20" fill="#a8a8a8"/>
<rect x="151" y="49" width="18" height="9" fill="#efefef"/>
<rect x="151" y="58" width="18" height="9" fill="#d6d6d6"/>
<rect x="150" y="48" width="1" height="20" fill="#a8a8a8"/>
<polygon points="68,56 73.5,56 70.75,59.5" fill="#4a62c4" shape-rendering="auto"/>
<polygon points="157,59.5 162.5,59.5 159.75,56" fill="#4a62c4" shape-rendering="auto"/>
<text x="122.5" y="62" font-size="12" fill="#000" textLength="23" lengthAdjust="spacingAndGlyphs">1.00</text>
<text x="18.5" y="63" font-size="12" fill="#fff" textLength="25.5" lengthAdjust="spacingAndGlyphs">SELL</text>
<text x="186.8" y="63" font-size="12" fill="#fff" textLength="23" lengthAdjust="spacingAndGlyphs">BUY</text>
<text x="26.7" y="102" font-size="13" fill="#fff" textLength="23.3" lengthAdjust="spacingAndGlyphs" font-weight="bold">1.11</text>
<text x="55" y="102" font-size="34.7" fill="#fff" stroke="url(#bg)" stroke-width="0.5" textLength="32.3" lengthAdjust="spacingAndGlyphs">53</text>
<text x="93" y="86" font-size="10.5" fill="#fff" font-weight="bold">4</text>
<text x="136.7" y="102" font-size="13" fill="#fff" textLength="23.3" lengthAdjust="spacingAndGlyphs" font-weight="bold">1.11</text>
<text x="166" y="102" font-size="34.7" fill="#fff" stroke="url(#bg)" stroke-width="0.5" textLength="32.6" lengthAdjust="spacingAndGlyphs">55</text>
<text x="204.5" y="86" font-size="10.5" fill="#fff" font-weight="bold">1</text></svg></body></html>
